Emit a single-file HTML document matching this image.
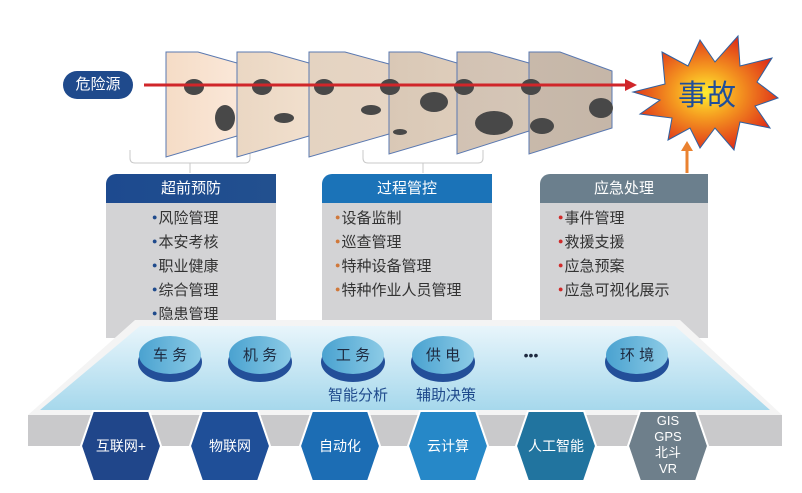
<!DOCTYPE html>
<html><head><meta charset="utf-8"><style>
body{margin:0;width:802px;height:493px;background:#fff;overflow:hidden;font-family:"Liberation Sans","Noto Sans CJK SC",sans-serif;position:relative}
.a{position:absolute}
.hd{position:absolute;top:174px;height:29px;color:#fff;font-size:15px;line-height:29px;text-align:center;border-radius:10px 0 0 0}
.bd{position:absolute;top:203px;height:135px;background:#d3d3d5}
.it{position:absolute;font-size:15px;color:#333;line-height:23px}
.it span{font-size:9px;vertical-align:3px;margin-right:1px}
</style></head><body>
<svg class="a" style="left:0;top:0" width="802" height="493">
<defs>
<linearGradient id="s1" x1="0" x2="1"><stop offset="0" stop-color="#f5dcc6"/><stop offset="1" stop-color="#fae7d8"/></linearGradient>
<linearGradient id="s2" x1="0" x2="1"><stop offset="0" stop-color="#ead7c3"/><stop offset="1" stop-color="#f1dfcd"/></linearGradient>
<linearGradient id="s3" x1="0" x2="1"><stop offset="0" stop-color="#e4d3c1"/><stop offset="1" stop-color="#e6d5c4"/></linearGradient>
<linearGradient id="s4" x1="0" x2="1"><stop offset="0" stop-color="#d9c8b6"/><stop offset="1" stop-color="#decdbb"/></linearGradient>
<linearGradient id="s5" x1="0" x2="1"><stop offset="0" stop-color="#d2c2b3"/><stop offset="1" stop-color="#d5c6b7"/></linearGradient>
<linearGradient id="s6" x1="0" x2="1"><stop offset="0" stop-color="#c8b9aa"/><stop offset="1" stop-color="#c5b6a8"/></linearGradient>
<radialGradient id="st" cx="0.5" cy="0.5" r="0.55"><stop offset="0" stop-color="#ffee30"/><stop offset="0.4" stop-color="#f59a20"/><stop offset="1" stop-color="#dc2418"/></radialGradient>
<linearGradient id="pl" x1="0" y1="0" x2="0" y2="1"><stop offset="0" stop-color="#e8f5fb"/><stop offset="1" stop-color="#a6d8ec"/></linearGradient>
<linearGradient id="el" x1="0" x2="1"><stop offset="0" stop-color="#4aa2d0"/><stop offset="1" stop-color="#8ccbe6"/></linearGradient>
</defs>
<path d="M130 150 v8 q0 5 5 5 h110 q5 0 5-5 v-8 M190 163 v10" fill="none" stroke="#c8c8c8" stroke-width="1"/>
<path d="M363 150 v8 q0 5 5 5 h110 q5 0 5-5 v-8 M423 163 v10" fill="none" stroke="#c8c8c8" stroke-width="1"/>
<g stroke="#5a78b0" stroke-width="1">
<path d="M166 52 H198 L237 63 V136 L166 157Z" fill="url(#s1)"/>
<path d="M237 52 H270 L309 63 V136 L237 157Z" fill="url(#s2)"/>
<path d="M309 52 H345 L389 64 V134 L309 157Z" fill="url(#s3)"/>
<path d="M389 52 H420 L457 63 V134 L389 154Z" fill="url(#s4)"/>
<path d="M457 52 H490 L529 63 V131 L457 154Z" fill="url(#s5)"/>
<path d="M529 52 H560 L612 71 V128 L529 154Z" fill="url(#s6)"/>
</g>
<g fill="#484848">
<ellipse cx="194" cy="87" rx="10" ry="8"/><ellipse cx="225" cy="118" rx="10" ry="13"/>
<ellipse cx="262" cy="87" rx="10" ry="8"/><ellipse cx="284" cy="118" rx="10" ry="5"/>
<ellipse cx="324" cy="87" rx="10" ry="8"/><ellipse cx="371" cy="110" rx="10" ry="5"/>
<ellipse cx="390" cy="87" rx="10" ry="8"/><ellipse cx="434" cy="102" rx="14" ry="10"/><ellipse cx="400" cy="132" rx="7" ry="3"/>
<ellipse cx="464" cy="87" rx="10" ry="8"/><ellipse cx="494" cy="123" rx="19" ry="12"/>
<ellipse cx="531" cy="87" rx="10" ry="8"/><ellipse cx="542" cy="126" rx="12" ry="8"/><ellipse cx="601" cy="108" rx="12" ry="10"/>
</g>
<line x1="144" y1="85" x2="627" y2="85" stroke="#d0262a" stroke-width="3"/>
<path d="M637 85 L625 79 V91Z" fill="#d0262a"/>
<path d="M662 52 L688 66 L700 40 L715 62 L738 36 L740 66 L772 58 L757 82 L778 98 L755 106 L770 128 L740 122 L734 150 L715 128 L700 148 L690 128 L668 140 L672 118 L640 114 L660 100 L633 92 L665 84 Z" fill="url(#st)" stroke="#3060a0" stroke-width="1"/>
<text x="707" y="105" font-size="29" fill="#1f4e9a" text-anchor="middle" font-family="Liberation Sans,Noto Sans CJK SC,sans-serif">事故</text>
<line x1="687" y1="173" x2="687" y2="150" stroke="#ea8230" stroke-width="3"/>
<path d="M687 141 L681 151 H693Z" fill="#ea8230"/>
</svg>
<div class="a" style="left:63px;top:71px;width:70px;height:28px;border-radius:14px;background:#1f4a8c;color:#fff;font-size:15px;line-height:28px;text-align:center">危险源</div>
<div class="bd" style="left:106px;width:170px"></div>
<div class="bd" style="left:322px;width:170px"></div>
<div class="bd" style="left:540px;width:168px"></div>
<div class="hd" style="left:106px;width:170px;background:linear-gradient(90deg,#1d4a8f,#22508f)">超前预防</div>
<div class="hd" style="left:322px;width:170px;background:#1b73b8">过程管控</div>
<div class="hd" style="left:540px;width:168px;background:#6b7f8d">应急处理</div>
<div class="it" style="left:152px;top:206px"><span style="color:#1f4a8c">●</span>风险管理<br><span style="color:#1f4a8c">●</span>本安考核<br><span style="color:#1f4a8c">●</span>职业健康<br><span style="color:#1f4a8c">●</span>综合管理<br><span style="color:#1f4a8c">●</span>隐患管理</div>
<div class="it" style="left:335px;top:206px"><span style="color:#d0783a">●</span>设备监制<br><span style="color:#d0783a">●</span>巡查管理<br><span style="color:#d0783a">●</span>特种设备管理<br><span style="color:#d0783a">●</span>特种作业人员管理</div>
<div class="it" style="left:558px;top:206px"><span style="color:#d02a2a">●</span>事件管理<br><span style="color:#d02a2a">●</span>救援支援<br><span style="color:#d02a2a">●</span>应急预案<br><span style="color:#d02a2a">●</span>应急可视化展示</div>
<svg class="a" style="left:0;top:0" width="802" height="493">
<defs><path id="hx" d="M-40 0 L-28 -35 H28 L40 0 L28 35 H-28Z"/></defs>
<path d="M28 415 H782 V446 H28Z" fill="#c9c9cb"/>
<path d="M135 320 H680 L782 415 H28Z" fill="#f4f4f4"/>
<path d="M140 326 H675 L770 410 H40Z" fill="url(#pl)"/>
<g font-size="15" fill="#1e2a40" text-anchor="middle" font-family="Liberation Sans,Noto Sans CJK SC,sans-serif">
<g><ellipse cx="170" cy="362" rx="32" ry="20" fill="#234f99"/><ellipse cx="170" cy="355" rx="31" ry="19" fill="url(#el)"/><text x="170" y="360">车 务</text></g>
<g><ellipse cx="260" cy="362" rx="32" ry="20" fill="#234f99"/><ellipse cx="260" cy="355" rx="31" ry="19" fill="url(#el)"/><text x="260" y="360">机 务</text></g>
<g><ellipse cx="353" cy="362" rx="32" ry="20" fill="#234f99"/><ellipse cx="353" cy="355" rx="31" ry="19" fill="url(#el)"/><text x="353" y="360">工 务</text></g>
<g><ellipse cx="443" cy="362" rx="32" ry="20" fill="#234f99"/><ellipse cx="443" cy="355" rx="31" ry="19" fill="url(#el)"/><text x="443" y="360">供 电</text></g>
<g><ellipse cx="637" cy="362" rx="32" ry="20" fill="#234f99"/><ellipse cx="637" cy="355" rx="31" ry="19" fill="url(#el)"/><text x="637" y="360">环 境</text></g>
<text x="531" y="360" font-size="14">•••</text>
</g>
<text x="358" y="400" font-size="15" fill="#1f4a8c" text-anchor="middle" font-family="Liberation Sans,Noto Sans CJK SC,sans-serif">智能分析</text>
<text x="446" y="400" font-size="15" fill="#1f4a8c" text-anchor="middle" font-family="Liberation Sans,Noto Sans CJK SC,sans-serif">辅助决策</text>
<g stroke="#fff" stroke-width="2" stroke-linejoin="round">
<use href="#hx" x="121" y="446" fill="#20468a"/>
<use href="#hx" x="230" y="446" fill="#1f4f98"/>
<use href="#hx" x="340" y="446" fill="#1c6db4"/>
<use href="#hx" x="448" y="446" fill="#2688c8"/>
<use href="#hx" x="556" y="446" fill="#21749f"/>
<use href="#hx" x="668" y="446" fill="#6e7f8b"/>
</g>
<g fill="#fff" font-size="14" text-anchor="middle" font-family="Liberation Sans,Noto Sans CJK SC,sans-serif">
<text x="121" y="451">互联网+</text>
<text x="230" y="451">物联网</text>
<text x="340" y="451">自动化</text>
<text x="448" y="451">云计算</text>
<text x="556" y="451">人工智能</text>
<text x="668" y="425" font-size="13">GIS</text><text x="668" y="441" font-size="13">GPS</text><text x="668" y="457" font-size="13">北斗</text><text x="668" y="473" font-size="13">VR</text>
</g>
</svg>
</body></html>
